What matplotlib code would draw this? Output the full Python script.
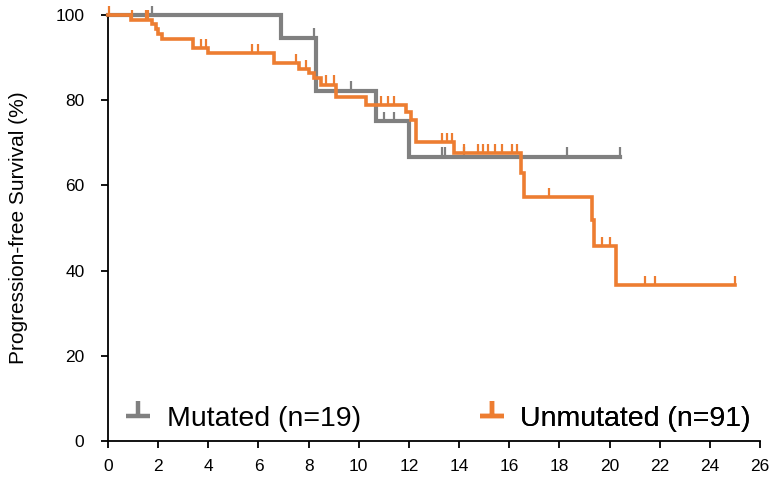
import numpy as np
import matplotlib
matplotlib.use("Agg")
import matplotlib.pyplot as plt
from matplotlib.path import Path
from matplotlib.lines import Line2D

# ---- data ----
mut_t = [0, 6.9, 8.3, 10.7, 12.0, 20.4]
mut_s = [100, 94.7, 82.2, 75.0, 66.7, 66.7]
mut_cens = [1.75, 8.2, 9.7, 11.0, 11.4, 13.3, 13.45, 14.2, 18.3, 20.4]

unm_t = [0, 0.9, 1.75, 1.9, 2.0, 2.15, 3.4, 4.0, 6.6, 7.6, 8.0, 8.2, 8.5,
         9.1, 10.3, 11.9, 12.1, 12.3, 13.8, 16.45, 16.6, 19.3, 19.4, 20.25, 25.0]
unm_s = [100, 98.9, 97.8, 96.7, 95.6, 94.4, 92.2, 91.0, 88.7, 87.3, 86.4, 85.2, 83.6,
         80.8, 78.9, 77.2, 75.3, 70.2, 67.6, 62.9, 57.3, 51.9, 45.8, 36.6, 36.6]
unm_cens = [0.05, 0.95, 1.5, 1.6, 3.7, 3.9, 5.75, 6.0, 7.5, 7.9, 8.7, 9.0,
            10.9, 11.15, 11.4, 13.3, 13.5, 13.7, 14.2, 14.75, 14.95, 15.15,
            15.45, 15.7, 16.1, 16.3, 17.6, 19.7, 20.0, 21.4, 21.8, 25.0]

labels = ["Mutated (n=19)", "Unmutated (n=91)"]
colors = ["#808080", "#ED7D31"]
x_ticks = list(range(0, 27, 2))
y_ticks = [0, 20, 40, 60, 80, 100]
y_label = "Progression-free Survival (%)"

FAM = ["Liberation Sans", "DejaVu Sans"]

fig = plt.figure(figsize=(7.71, 4.79), dpi=100)
ax = fig.add_axes([108 / 771, 0.0793, 652 / 771, 0.8894])

def level_at(ts, ss, x):
    idx = np.searchsorted(ts, x, side="right") - 1
    return ss[max(idx, 0)]

series = [(mut_t, mut_s, mut_cens, 3.0), (unm_t, unm_s, unm_cens, 2.6)]
for (ts, ss, cens, lw), col in zip(series, colors):
    z = 3 if col == colors[1] else 2
    ax.step(ts, ss, where="post", color=col, lw=lw, clip_on=False,
            solid_joinstyle="miter", zorder=z)
    cy = [level_at(ts, ss, c) for c in cens]
    ax.vlines(cens, cy, np.array(cy) + 2.2, color=col, lw=1.6, clip_on=False,
              zorder=z)

ax.set_xlim(0, 26)
ax.set_ylim(0, 100)
ax.set_xticks(x_ticks)
ax.set_yticks(y_ticks)
for s in ["top", "right"]:
    ax.spines[s].set_visible(False)
for s in ["left", "bottom"]:
    ax.spines[s].set_linewidth(1.3)
ax.tick_params(axis="both", direction="out", length=5, width=1.3,
               labelsize=12.5, colors="black")
ax.tick_params(axis="y", pad=12)
ax.tick_params(axis="x", pad=8)
for lab in ax.get_xticklabels() + ax.get_yticklabels():
    lab.set_fontfamily(FAM)
ax.set_ylabel(y_label, fontsize=15, family=FAM, labelpad=20)

# legend handles: a "⊥" censor-style symbol
tick_mark = Path([(-1, 0), (1, 0), (0, 0), (0, 1.3)],
                 [Path.MOVETO, Path.LINETO, Path.MOVETO, Path.LINETO])
anchors = [(0.018, 0.015), (0.560, 0.015)]
for lab, col, anc in zip(labels, colors, anchors):
    h = Line2D([], [], color=col, marker=tick_mark, markersize=22,
               markeredgewidth=3.2, linestyle="none")
    leg = ax.legend([h], [lab], loc="lower left", frameon=False,
                    bbox_to_anchor=anc, borderpad=0.1, borderaxespad=0,
                    handlelength=1.1, handletextpad=0.45,
                    prop={"family": FAM, "size": 20.5})
    ax.add_artist(leg)

fig.savefig("out.png", dpi=100)
